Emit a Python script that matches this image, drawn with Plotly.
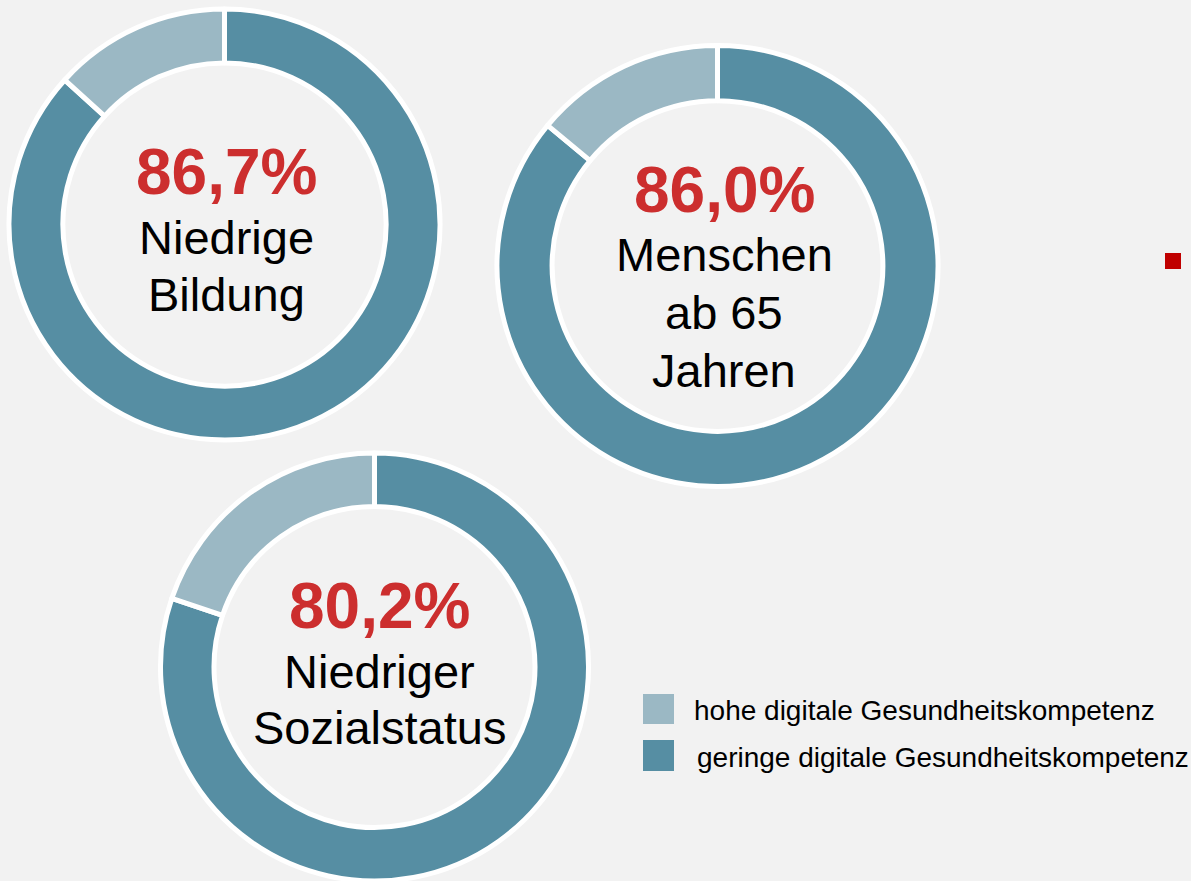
import plotly.graph_objects as go

# ---------------- data ----------------
groups = ["Niedrige<br>Bildung", "Menschen<br>ab 65<br>Jahren", "Niedriger<br>Sozialstatus"]
low_share = [86.7, 86.0, 80.2]      # geringe digitale Gesundheitskompetenz
high_share = [13.3, 14.0, 19.8]     # hohe digitale Gesundheitskompetenz
series_labels = ["geringe digitale Gesundheitskompetenz", "hohe digitale Gesundheitskompetenz"]
legend_order = ["hohe digitale Gesundheitskompetenz", "geringe digitale Gesundheitskompetenz"]

# ---------------- style ----------------
W, H = 1191, 881
BG = "#F2F2F2"
DARK = "#568EA3"
LIGHT = "#9BB8C4"
RED_TXT = "#CC2E2E"
FONT = "Liberation Sans, Arial, sans-serif"
colors = {series_labels[0]: DARK, series_labels[1]: LIGHT}

# pixel geometry for each donut: centre x, centre y (from top), path radius
geo = [(224.5, 224.5, 215.5), (717.5, 266.0, 220.5), (374.5, 667.0, 214.0)]
HOLE = 0.75
# text layout: centre x, baselines for percent and label lines
txt = [
    (226, 193, [253, 310]),
    (724, 211, [270, 328, 386]),
    (379, 627, [687, 743]),
]
PCT_SIZE = 64
LBL_SIZE = 47
LEG_SIZE = 28

fig = go.Figure()
annotations = []
for i, g in enumerate(groups):
    cx, cy, r = geo[i]
    x0, x1 = (cx - r) / W, (cx + r) / W
    yb = H - cy
    y0, y1 = max(0, (yb - r) / H), min(1, (yb + r) / H)
    fig.add_trace(go.Pie(
        values=[low_share[i], high_share[i]],
        labels=series_labels,
        marker=dict(colors=[colors[l] for l in series_labels], line=dict(color="white", width=5)),
        hole=HOLE, sort=False, direction="clockwise", rotation=0,
        textinfo="none", hoverinfo="label+percent", showlegend=False,
        domain=dict(x=[x0, x1], y=[y0, y1]),
    ))
    tx, pb, lbs = txt[i]
    pct = f"{low_share[i]:.1f}".replace(".", ",") + "%"
    annotations.append(dict(
        text=f"<b>{pct}</b>", x=tx / W, y=1 - (pb - 0.33 * PCT_SIZE) / H,
        xref="paper", yref="paper", xanchor="center", yanchor="middle",
        showarrow=False, font=dict(family=FONT, size=PCT_SIZE, color=RED_TXT),
    ))
    for line, bl in zip(g.split("<br>"), lbs):
        annotations.append(dict(
            text=line, x=tx / W, y=1 - (bl - 0.33 * LBL_SIZE) / H,
            xref="paper", yref="paper", xanchor="center", yanchor="middle",
            showarrow=False, font=dict(family=FONT, size=LBL_SIZE, color="black"),
        ))

# custom legend
shapes = []
leg_sq = [(643, 694, 674, 724), (643, 740, 674, 771)]
leg_txt = [(694, 720), (697, 767)]
for lab, (sx0, sy0, sx1, sy1), (tx, bl) in zip(legend_order, leg_sq, leg_txt):
    shapes.append(dict(type="rect", xref="paper", yref="paper",
                       x0=sx0 / W, x1=sx1 / W, y0=1 - sy1 / H, y1=1 - sy0 / H,
                       fillcolor=colors[lab], line=dict(width=0)))
    annotations.append(dict(
        text=lab, x=tx / W, y=1 - (bl - 0.33 * LEG_SIZE) / H,
        xref="paper", yref="paper", xanchor="left", yanchor="middle",
        showarrow=False, font=dict(family=FONT, size=LEG_SIZE, color="black"),
        xshift=-2,
    ))

# small red bullet square
shapes.append(dict(type="rect", xref="paper", yref="paper",
                   x0=1165 / W, x1=1181 / W, y0=1 - 269 / H, y1=1 - 253 / H,
                   fillcolor="#C00000", line=dict(width=0)))

fig.update_layout(
    width=W, height=H, margin=dict(l=0, r=0, t=0, b=0),
    paper_bgcolor=BG, plot_bgcolor=BG,
    annotations=annotations, shapes=shapes, showlegend=False,
)
fig.write_html(
    "out.html",
    config={"displayModeBar": False},
    post_script="document.body.style.margin='0px';document.body.style.overflow='hidden';document.body.style.background='#F2F2F2';",
)
